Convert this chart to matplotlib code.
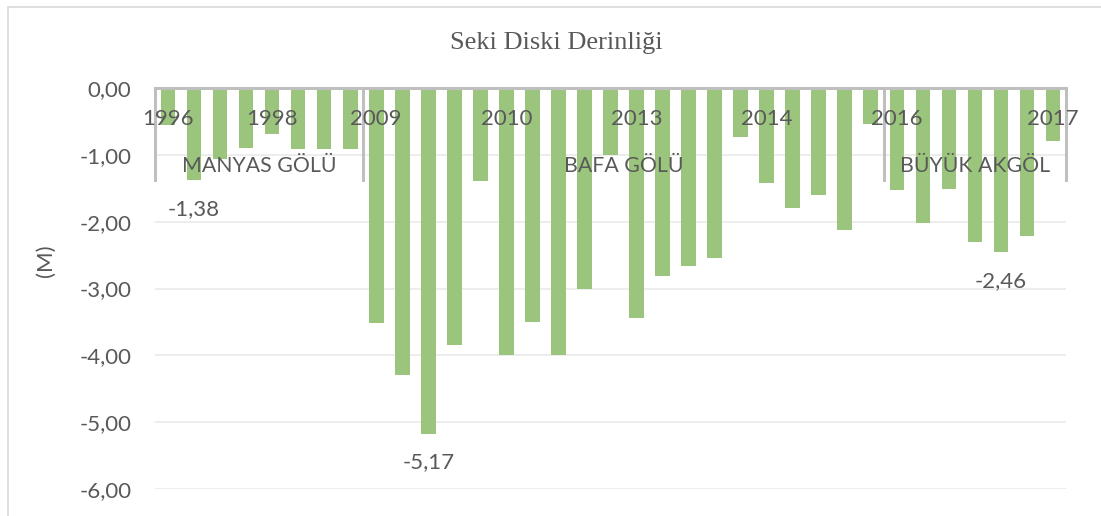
import matplotlib
matplotlib.use("Agg")
import matplotlib.pyplot as plt
from matplotlib.patches import Rectangle
import numpy as np

# ---- data ----
lakes = ["MANYAS GÖLÜ", "BAFA GÖLÜ", "BÜYÜK AKGÖL"]
manyas_values = [-0.55, -1.38, -1.06, -0.90, -0.69, -0.91, -0.92, -0.92]
bafa_values = [-3.52, -4.29, -5.17, -3.85, -1.39, -4.00, -3.50, -4.00, -3.00, -1.00,
               -3.44, -2.82, -2.66, -2.55, -0.73, -1.42, -1.79, -1.60, -2.12, -0.54]
akgol_values = [-1.53, -2.02, -1.51, -2.31, -2.46, -2.21, -0.79]
# year labels (index of bar within all bars, label)
year_label_idx = [0, 4, 8, 13, 18, 23, 28, 34]
year_labels = ["1996", "1998", "2009", "2010", "2013", "2014", "2016", "2017"]
annotated_idx = [1, 10, 32]
yticks = [0, -1, -2, -3, -4, -5, -6]

values = manyas_values + bafa_values + akgol_values
group_sizes = [len(manyas_values), len(bafa_values), len(akgol_values)]

W, H = 1101, 516
fig = plt.figure(figsize=(W / 100, H / 100), dpi=100)
fig.patch.set_facecolor("white")
# chart border
fig.add_artist(Rectangle((8 / W, -0.01), 1.1, 1 - 7 / H + 0.01, transform=fig.transFigure,
                         fill=False, edgecolor="#d9d9d9", lw=1.2))

ax = fig.add_axes([155 / W, 1 - 489 / H, (1066 - 155) / W, (489 - 88) / H])
n = len(values)
x = np.arange(n)
ax.bar(x, values, width=0.56, color="#9bc57d", zorder=3)
ax.set_xlim(-0.5, n - 0.5)
ax.set_ylim(-6, 0)

font = "Lato"
tc = "#595959"
ax.set_yticks(yticks)
ax.set_yticklabels([f"{v:.2f}".replace(".", ",") for v in yticks],
                   fontfamily=font, fontsize=16, color=tc)
ax.tick_params(axis="y", length=0, pad=17)
ax.set_xticks([])
for s in ax.spines.values():
    s.set_visible(False)
for t in yticks[1:]:
    ax.axhline(t, color="#ececec", lw=1.3, zorder=1)
ax.axhline(0, color="#bfbfbf", lw=2.2, zorder=4, clip_on=False)

# group dividers
edges = np.concatenate([[0], np.cumsum(group_sizes)]) - 0.5
div_bottom = -1.38
for e in edges:
    ax.plot([e, e], [0, div_bottom], color="#bfbfbf", lw=2.2, zorder=4, clip_on=False)

# year labels
for i, lab in zip(year_label_idx, year_labels):
    ax.text(x[i], -0.46, lab, ha="center", va="center", fontfamily=font,
            fontsize=16, color=tc, zorder=5)
# lake labels
for k, lab in enumerate(lakes):
    c = (edges[k] + edges[k + 1]) / 2
    ax.text(c, -1.17, lab, ha="center", va="center", fontfamily=font,
            fontsize=15.3, color=tc, zorder=5)

# data labels
for i in annotated_idx:
    ax.text(x[i], values[i] - 0.43, f"{values[i]:.2f}".replace(".", ","), ha="center",
            va="center", fontfamily=font, fontsize=16, color=tc, zorder=5)

fig.text(46 / W, 1 - 261 / H, "(M)", rotation=90, ha="center", va="center",
         fontfamily=font, fontsize=16, color=tc)
fig.text(556 / W, 1 - 43 / H, "Seki Diski Derinliği", ha="center", va="center",
         fontfamily="Liberation Serif", fontsize=19, color=tc)

fig.savefig("out.png", dpi=100)
